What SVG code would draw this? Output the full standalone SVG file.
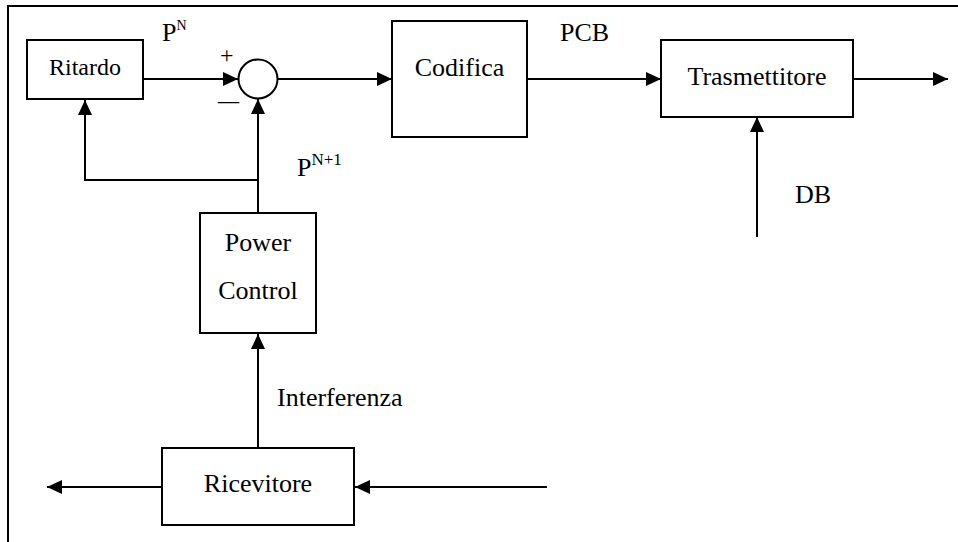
<svg xmlns="http://www.w3.org/2000/svg" width="958" height="542" viewBox="0 0 958 542">
<style>
.box{fill:#fff;stroke:#000;stroke-width:2}
.ln{fill:none;stroke:#000;stroke-width:2}
.t{font-family:"Liberation Serif","Times New Roman",serif;font-size:26px;fill:#000}
.c{text-anchor:middle}
</style>
<defs>
<marker id="ah" markerUnits="userSpaceOnUse" markerWidth="16" markerHeight="14" refX="15" refY="7" orient="auto">
<path d="M0,0 L15,7 L0,14 z" fill="#000"/>
</marker>
</defs>
<rect x="0" y="0" width="958" height="542" fill="#fff"/>
<path class="ln" d="M8,545 V6 H960"/>
<g id="connectors">
<line class="ln" x1="143" y1="79" x2="238" y2="79" marker-end="url(#ah)"/>
<line class="ln" x1="258" y1="213" x2="258" y2="99" marker-end="url(#ah)"/>
<path class="ln" d="M258,180 H85 V100" marker-end="url(#ah)"/>
<line class="ln" x1="277.5" y1="79" x2="392" y2="79" marker-end="url(#ah)"/>
<line class="ln" x1="527" y1="79" x2="661" y2="79" marker-end="url(#ah)"/>
<line class="ln" x1="853" y1="79" x2="948" y2="79" marker-end="url(#ah)"/>
<line class="ln" x1="757" y1="237" x2="757" y2="117" marker-end="url(#ah)"/>
<line class="ln" x1="258" y1="448" x2="258" y2="334" marker-end="url(#ah)"/>
<line class="ln" x1="162" y1="487" x2="47" y2="487" marker-end="url(#ah)"/>
<line class="ln" x1="547" y1="487" x2="355" y2="487" marker-end="url(#ah)"/>
</g>
<g id="ritardo">
<rect class="box" x="27" y="40" width="116" height="59"/>
<text class="t c" x="85" y="75" style="font-size:24px">Ritardo</text>
</g>
<g id="sommatore">
<circle class="box" cx="258" cy="79" r="19.5"/>
<text class="t" x="220" y="63" style="font-size:24px">+</text>
<text class="t" x="218" y="109" textLength="21" lengthAdjust="spacingAndGlyphs">–</text>
</g>
<g id="codifica">
<rect class="box" x="392" y="21" width="135" height="116"/>
<text class="t c" x="459.5" y="76">Codifica</text>
</g>
<g id="trasmettitore">
<rect class="box" x="661" y="40" width="192" height="77"/>
<text class="t c" x="757" y="85">Trasmettitore</text>
</g>
<g id="power-control">
<rect class="box" x="200" y="213" width="116" height="120"/>
<text class="t c" x="258" y="251">Power</text>
<text class="t c" x="258" y="299">Control</text>
</g>
<g id="ricevitore">
<rect class="box" x="162" y="448" width="192" height="77"/>
<text class="t c" x="258" y="492">Ricevitore</text>
</g>
<g id="labels">
<text class="t" x="162" y="41">P<tspan style="font-size:14px" dy="-11">N</tspan></text>
<text class="t" x="297" y="176">P<tspan style="font-size:17px" dy="-11">N+1</tspan></text>
<text class="t" x="560" y="41">PCB</text>
<text class="t" x="795" y="203">DB</text>
<text class="t" x="277" y="406">Interferenza</text>
</g>
</svg>
